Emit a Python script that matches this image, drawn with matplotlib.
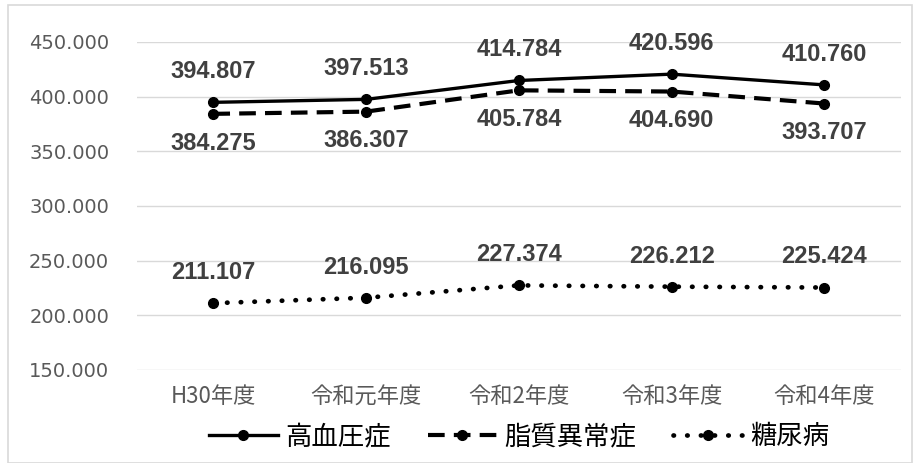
import matplotlib
matplotlib.use("Agg")
import matplotlib.pyplot as plt
from matplotlib.patches import Rectangle

plt.rcParams['font.family'] = ['Noto Sans CJK JP', 'DejaVu Sans']

categories = ["H30年度", "令和元年度", "令和2年度", "令和3年度", "令和4年度"]
series_names = ["高血圧症", "脂質異常症", "糖尿病"]
hypertension = [394.807, 397.513, 414.784, 420.596, 410.760]
dyslipidemia = [384.275, 386.307, 405.784, 404.690, 393.707]
diabetes = [211.107, 216.095, 227.374, 226.212, 225.424]
yticks = [150, 200, 250, 300, 350, 400, 450]

fig = plt.figure(figsize=(9.2, 4.63), dpi=100)
ax = fig.add_axes([0.1489, 0.2009, 0.979 - 0.1489, 0.9093 - 0.2009])

x = list(range(len(categories)))
styles = [
    dict(linestyle='-', lw=2.4),
    dict(linestyle=(0, (4, 2.2)), lw=3.0),
    dict(linestyle=(0, (0.1, 2.8)), lw=3.4, dash_capstyle='round'),
]
data = [hypertension, dyslipidemia, diabetes]
offsets = [22, -21, 22]
for name, vals, st, off in zip(series_names, data, styles, offsets):
    ax.plot(x, vals, color='black', marker='o', markersize=7, label=name, **st)
    for xi, v in zip(x, vals):
        ax.annotate(f"{v:.3f}", (xi, v), xytext=(0, off), textcoords='offset points',
                    ha='center', va='center', fontsize=17, fontweight='bold',
                    color='#404040', family=['Liberation Sans', 'DejaVu Sans'])

ax.set_xlim(-0.5, len(categories) - 0.5)
ax.set_ylim(150, 450)
ax.set_yticks(yticks)
ax.set_yticklabels([f"{t:.3f}" for t in yticks], fontsize=14, color='#595959',
                   family=['DejaVu Sans'])
ax.set_xticks(x)
ax.set_xticklabels(categories, fontsize=16, color='#595959')
ax.tick_params(axis='both', length=0)
ax.tick_params(axis='x', pad=11)
ax.tick_params(axis='y', pad=20)
ax.grid(axis='y', color='#d9d9d9', lw=1)
ax.set_axisbelow(True)
for s in ax.spines.values():
    s.set_visible(False)

leg = fig.legend(loc='center', bbox_to_anchor=(519 / 920, 1 - 437 / 463), ncol=3,
                 frameon=False, fontsize=19, handlelength=2.6, columnspacing=1.4,
                 handletextpad=0.3)

fig.patches.append(Rectangle((8 / 920, 0), (912 - 8) / 920, 1 - 5 / 463,
                             transform=fig.transFigure, fill=False,
                             edgecolor='#d9d9d9', lw=1.2))

fig.savefig("out.png", dpi=100)
